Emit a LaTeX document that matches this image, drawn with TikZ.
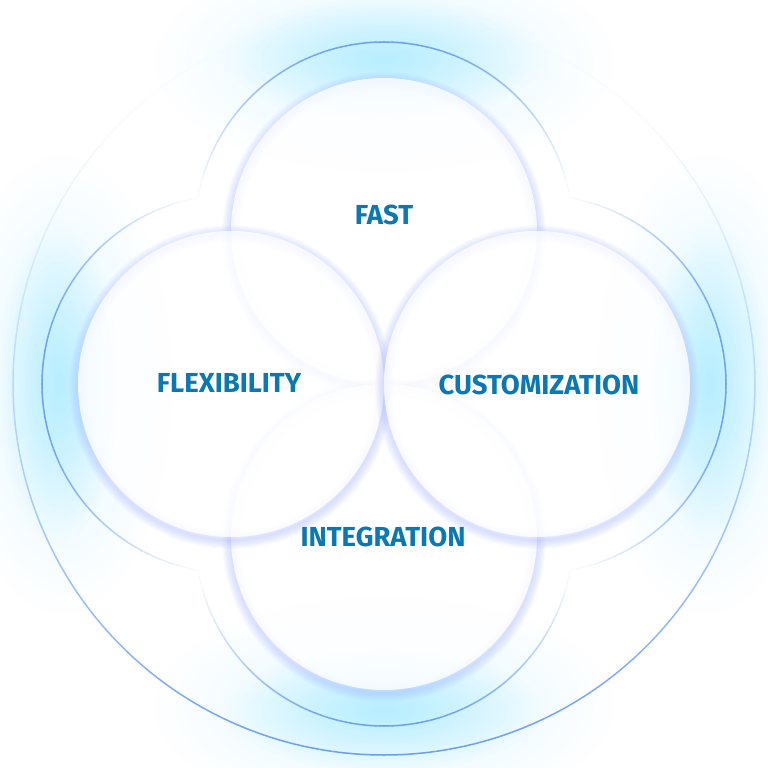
\documentclass[tikz,border=0pt]{standalone}
\usepackage{fontspec}
\setmainfont{Fira Sans}
\usetikzlibrary{fadings}
\definecolor{wordblue}{HTML}{0A78B2}
\definecolor{ringblue}{HTML}{6B9EF0}
\definecolor{glowcyan}{HTML}{B8EEFF}
\definecolor{halolav}{HTML}{9FB0FF}
\tikzfading[name=glowfade, inner color=transparent!0, outer color=transparent!100]
\tikzset{
  wordlbl/.style={font=\bfseries\fontsize{27.5}{32}\selectfont, text=wordblue},
  ringline/.style={ringblue, line width=1.5pt},
  glowspot/.style={glowcyan, path fading=glowfade},
  bubblehalo/.style={halolav, draw opacity=0.06},
  bubblefill/.style={white, fill opacity=0.82}
}
\begin{document}
\begin{tikzpicture}[x=1pt,y=1pt]
    \useasboundingbox[fill=white] (-384,-384) rectangle (384,384);
    %% Glows in the ring band
    \foreach \r in {0,90,180,270}{
        \fill[glowspot, fill opacity=0.45, rotate=\r] (0,322) ellipse (230 and 110);
        \fill[glowspot, rotate=\r] (0,326) ellipse (160 and 60);
    }
    %% Outer circle
    \foreach \a in {0,2,...,358}{
        \pgfmathsetmacro\op{((1+cos(\a+90))/2)^1.6}
        \draw[ringline, draw opacity=\op] (\a:371) arc (\a:\a+2:371);
    }
    %% Rings round the bubbles
    \foreach \r in {0,90,180,270}
        \foreach \a in {10,12,...,168}{
            \pgfmathsetmacro\op{0.02+0.98*sin((\a-10)*1.125)^1.3}
            \draw[ringline, draw opacity=\op, rotate=\r] (0,153) ++(\a:189) arc (\a:\a+2:189);
        }
    %% Bubbles
    \foreach \r in {0,180,90,270}{
        \foreach \k in {1,...,7}
            \draw[bubblehalo, line width=2.5*\k, yshift=-3, rotate=\r] (0,153) circle (153);
        \fill[bubblefill, rotate=\r] (0,153) circle (153);
    }
    %% Labels
    \node[wordlbl] (fast) at (0,169) {FAST};
    \node[wordlbl] (flex) at (-155,1) {FLEXIBILITY};
    \node[wordlbl] (cust) at (155,-1) {CUSTOMIZATION};
    \node[wordlbl] (integ) at (-1,-153) {INTEGRATION};
\end{tikzpicture}
\end{document}
